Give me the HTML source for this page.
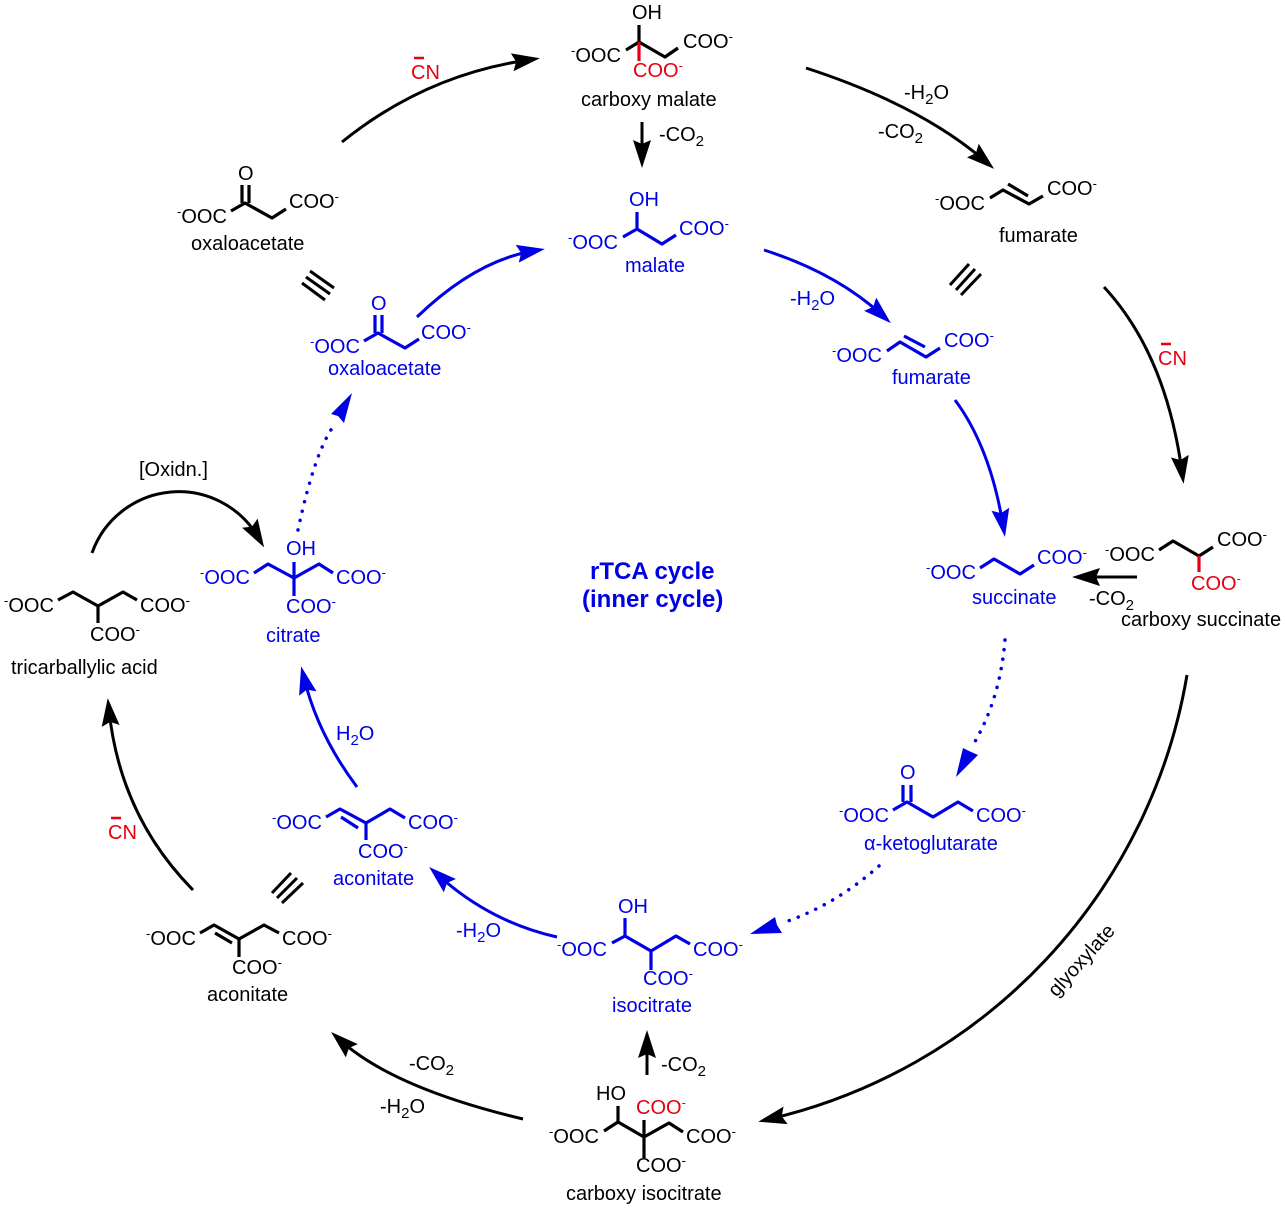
<!DOCTYPE html>
<html><head><meta charset="utf-8"><title>rTCA cycle</title>
<style>
html,body{margin:0;padding:0;background:#fff}
svg{display:block}
text{font-family:"Liberation Sans",Arial,sans-serif;font-size:20px;fill:#000}
.b text,text.b{fill:#0000e6}
.r{fill:#e60012!important}
.s{font-size:13px}
.bd{fill:none;stroke-width:3.2;stroke-linejoin:round;stroke:#000}
.b .bd{stroke:#0000e6}
.k{fill:none;stroke:#000;stroke-width:3}
.u{fill:none;stroke:#0000e6;stroke-width:3}
.d{fill:none;stroke:#0000e6;stroke-width:3.5;stroke-linecap:round;stroke-dasharray:.1 9.5}
</style></head><body>
<svg width="1286" height="1212" viewBox="0 0 1286 1212" xmlns="http://www.w3.org/2000/svg">
<defs>
<marker id="ak" markerUnits="userSpaceOnUse" markerWidth="32" markerHeight="24" refX="16" refY="12" orient="auto"><path d="M0,3 L28,12 L0,21 L4,12 Z" fill="#000"/></marker>
<marker id="au" markerUnits="userSpaceOnUse" markerWidth="32" markerHeight="24" refX="16" refY="12" orient="auto"><path d="M0,3 L28,12 L0,21 L4,12 Z" fill="#0000e6"/></marker>
</defs>

<!-- black arrows -->
<g marker-end="url(#ak)">
<path class="k" d="M342,142 Q425,75 528,60"/>
<path class="k" d="M806,68 Q920,105 985,161"/>
<path class="k" d="M1104,287 Q1166,354 1182,472"/>
<path class="k" d="M1187,675 A550,550 0 0 1 770,1119"/>
<path class="k" d="M523,1119 Q393,1088 340,1040"/>
<path class="k" d="M193,890 Q120,816 109,710"/>
<path class="k" d="M92,553 A92,92 0 0 1 258,537"/>
<path class="k" d="M642,122 L642,156"/>
<path class="k" d="M647,1075 L647,1042"/>
<path class="k" d="M1137,577 L1084,577"/>
</g>
<!-- blue arrows -->
<g marker-end="url(#au)">
<path class="u" d="M417,317 Q475,261 533,251"/>
<path class="u" d="M764,250 Q836,273 882,315"/>
<path class="u" d="M955,400 Q990,447 1003,525"/>
<path class="u" d="M557,937 Q490,922 438,875"/>
<path class="u" d="M357,787 Q318,735 304,678"/>
</g>
<path class="d" d="M1005,640 Q1000,700 973,745"/>
<path d="M956,777 L963,748 L969,751 L978,755 Z" fill="#0000e6"/>
<path class="d" d="M879,866 Q835,905 785,922"/>
<path d="M750,934 L775,917 L777,925 L782,933 Z" fill="#0000e6"/>
<path class="d" d="M298,530 Q315,450 335,424"/>
<path d="M352,393 L331,414 L338,416 L344,423 Z" fill="#0000e6"/>

<!-- triple bonds -->
<g stroke="#000" stroke-width="3" fill="none">
<path d="M310,271L334,288M306,277L330,294M302,283L325,300"/>
<path d="M969,264L950,285M975,269L956,290M981,274L961,295"/>
<path d="M291,873L272,893M297,878L277,898M303,883L282,903"/>
</g>

<!-- carboxy malate -->
<path class="bd" d="M626,50L639,42L665,57L678,48M639,25V42"/>
<path class="bd" style="stroke:#e60012" d="M639,42V61"/>
<text x="632" y="19">OH</text>
<text x="571" y="62"><tspan class="s" dy="-7">-</tspan><tspan dy="7">OOC</tspan></text>
<text x="683" y="48">COO<tspan class="s" dy="-7">-</tspan></text>
<text x="633" y="77" class="r">COO<tspan class="s r" dy="-7">-</tspan></text>
<text x="581" y="106">carboxy malate</text>
<text x="659" y="141">-CO<tspan font-size="15" dy="5">2</tspan></text>

<!-- oxaloacetate black -->
<path class="bd" d="M231,211L245,203L272,218L286,209M242,185V203M249,185V203"/>
<text x="238" y="180">O</text>
<text x="177" y="223"><tspan class="s" dy="-7">-</tspan><tspan dy="7">OOC</tspan></text>
<text x="289" y="208">COO<tspan class="s" dy="-7">-</tspan></text>
<text x="191" y="250">oxaloacetate</text>

<!-- fumarate black -->
<path class="bd" d="M990,198L1003,190L1029,204L1043,196M1008,184L1028,196"/>
<text x="935" y="210"><tspan class="s" dy="-7">-</tspan><tspan dy="7">OOC</tspan></text>
<text x="1047" y="195">COO<tspan class="s" dy="-7">-</tspan></text>
<text x="999" y="242">fumarate</text>

<!-- carboxy succinate -->
<path class="bd" d="M1159,550L1173,541L1199,556L1213,547"/>
<path class="bd" style="stroke:#e60012" d="M1199,556V572"/>
<text x="1105" y="561"><tspan class="s" dy="-7">-</tspan><tspan dy="7">OOC</tspan></text>
<text x="1217" y="546">COO<tspan class="s" dy="-7">-</tspan></text>
<text x="1191" y="590" class="r">COO<tspan class="s r" dy="-7">-</tspan></text>
<text x="1121" y="626">carboxy succinate</text>
<text x="1089" y="605">-CO<tspan font-size="15" dy="5">2</tspan></text>

<!-- carboxy isocitrate -->
<path class="bd" d="M604,1131L618,1122L644,1137L669,1123L683,1132M618,1106V1122M644,1120V1158"/>
<text x="596" y="1100">HO</text>
<text x="549" y="1143"><tspan class="s" dy="-7">-</tspan><tspan dy="7">OOC</tspan></text>
<text x="686" y="1143">COO<tspan class="s" dy="-7">-</tspan></text>
<text x="636" y="1114" class="r">COO<tspan class="s r" dy="-7">-</tspan></text>
<text x="636" y="1172">COO<tspan class="s" dy="-7">-</tspan></text>
<text x="566" y="1200">carboxy isocitrate</text>
<text x="661" y="1071">-CO<tspan font-size="15" dy="5">2</tspan></text>

<!-- aconitate black -->
<path class="bd" d="M200,933L214,925L239,939L264,925L279,933M215,933L232,943M239,939V957"/>
<text x="146" y="945"><tspan class="s" dy="-7">-</tspan><tspan dy="7">OOC</tspan></text>
<text x="282" y="945">COO<tspan class="s" dy="-7">-</tspan></text>
<text x="232" y="974">COO<tspan class="s" dy="-7">-</tspan></text>
<text x="207" y="1001">aconitate</text>

<!-- tricarballylic acid -->
<path class="bd" d="M58,600L73,592L98,606L123,592L137,600M98,606V623"/>
<text x="4" y="612"><tspan class="s" dy="-7">-</tspan><tspan dy="7">OOC</tspan></text>
<text x="140" y="612">COO<tspan class="s" dy="-7">-</tspan></text>
<text x="90" y="641">COO<tspan class="s" dy="-7">-</tspan></text>
<text x="11" y="674">tricarballylic acid</text>
<text x="139" y="476">[Oxidn.]</text>

<!-- black reagent labels -->
<text x="904" y="99">-H<tspan font-size="15" dy="5">2</tspan><tspan dy="-5">O</tspan></text>
<text x="878" y="138">-CO<tspan font-size="15" dy="5">2</tspan></text>
<text x="409" y="1070">-CO<tspan font-size="15" dy="5">2</tspan></text>
<text x="380" y="1113">-H<tspan font-size="15" dy="5">2</tspan><tspan dy="-5">O</tspan></text>
<text x="1081" y="967" text-anchor="middle" transform="rotate(-48 1081 960)">glyoxylate</text>

<!-- CN labels -->
<text x="411" y="79" class="r">CN</text><path d="M414,58H424" stroke="#e60012" stroke-width="2.5"/>
<text x="1158" y="365" class="r">CN</text><path d="M1161,344H1171" stroke="#e60012" stroke-width="2.5"/>
<text x="108" y="839" class="r">CN</text><path d="M111,818H121" stroke="#e60012" stroke-width="2.5"/>

<!-- blue molecules -->
<g class="b">
<path class="bd" d="M623,237L637,229L662,244L676,235M637,212V229"/>
<text x="629" y="206">OH</text>
<text x="568" y="249"><tspan class="s" dy="-7">-</tspan><tspan dy="7">OOC</tspan></text>
<text x="679" y="235">COO<tspan class="s" dy="-7">-</tspan></text>
<text x="625" y="272">malate</text>

<path class="bd" d="M364,341L378,333L405,348L419,339M375,315V333M382,315V333"/>
<text x="371" y="310">O</text>
<text x="310" y="353"><tspan class="s" dy="-7">-</tspan><tspan dy="7">OOC</tspan></text>
<text x="421" y="339">COO<tspan class="s" dy="-7">-</tspan></text>
<text x="328" y="375">oxaloacetate</text>

<path class="bd" d="M887,351L900,342L926,357L940,348M904,336L925,347"/>
<text x="832" y="362"><tspan class="s" dy="-7">-</tspan><tspan dy="7">OOC</tspan></text>
<text x="944" y="347">COO<tspan class="s" dy="-7">-</tspan></text>
<text x="892" y="384">fumarate</text>
<text x="790" y="305">-H<tspan font-size="15" dy="5">2</tspan><tspan dy="-5">O</tspan></text>

<path class="bd" d="M980,568L994,559L1020,574L1034,565"/>
<text x="926" y="579"><tspan class="s" dy="-7">-</tspan><tspan dy="7">OOC</tspan></text>
<text x="1037" y="564">COO<tspan class="s" dy="-7">-</tspan></text>
<text x="972" y="604">succinate</text>

<path class="bd" d="M893,810L907,802L933,817L958,802L973,811M903,785V802M911,785V802"/>
<text x="900" y="779">O</text>
<text x="839" y="822"><tspan class="s" dy="-7">-</tspan><tspan dy="7">OOC</tspan></text>
<text x="976" y="822">COO<tspan class="s" dy="-7">-</tspan></text>
<text x="864" y="850">α-ketoglutarate</text>

<path class="bd" d="M612,943L625,936L651,951L676,936L690,944M625,918V936M651,951V970"/>
<text x="618" y="913">OH</text>
<text x="557" y="956"><tspan class="s" dy="-7">-</tspan><tspan dy="7">OOC</tspan></text>
<text x="693" y="956">COO<tspan class="s" dy="-7">-</tspan></text>
<text x="643" y="985">COO<tspan class="s" dy="-7">-</tspan></text>
<text x="612" y="1012">isocitrate</text>
<text x="456" y="937">-H<tspan font-size="15" dy="5">2</tspan><tspan dy="-5">O</tspan></text>

<path class="bd" d="M326,817L340,809L366,823L390,809L405,818M341,817L358,828M366,823V840"/>
<text x="272" y="829"><tspan class="s" dy="-7">-</tspan><tspan dy="7">OOC</tspan></text>
<text x="408" y="829">COO<tspan class="s" dy="-7">-</tspan></text>
<text x="358" y="858">COO<tspan class="s" dy="-7">-</tspan></text>
<text x="333" y="885">aconitate</text>
<text x="336" y="740">H<tspan font-size="15" dy="5">2</tspan><tspan dy="-5">O</tspan></text>

<path class="bd" d="M254,573L268,564L294,578L319,564L333,573M294,562V596"/>
<text x="286" y="555">OH</text>
<text x="200" y="584"><tspan class="s" dy="-7">-</tspan><tspan dy="7">OOC</tspan></text>
<text x="336" y="584">COO<tspan class="s" dy="-7">-</tspan></text>
<text x="286" y="613">COO<tspan class="s" dy="-7">-</tspan></text>
<text x="266" y="642">citrate</text>

<text x="590" y="579" style="font-size:24px;font-weight:bold">rTCA cycle</text>
<text x="582" y="607" style="font-size:24px;font-weight:bold">(inner cycle)</text>
</g>
</svg>
</body></html>
